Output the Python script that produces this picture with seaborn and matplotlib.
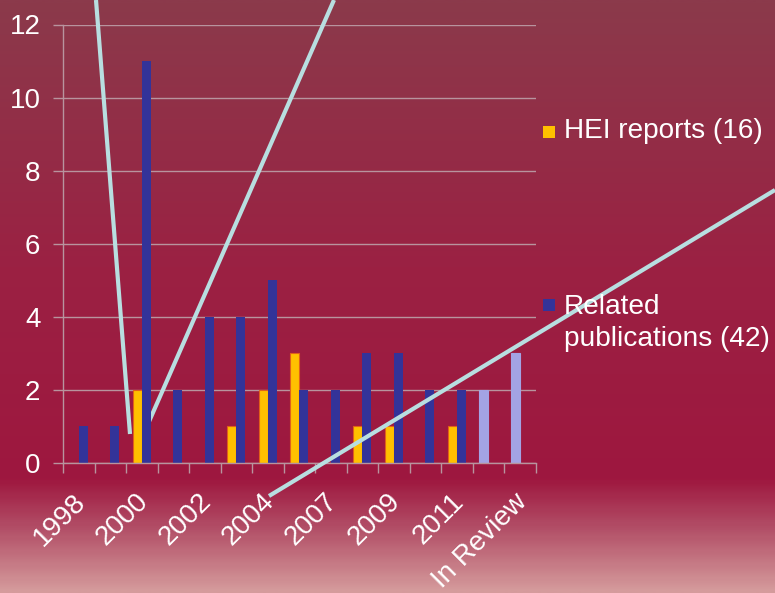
import numpy as np
import pandas as pd
import seaborn as sns
import matplotlib.pyplot as plt
from matplotlib.colors import LinearSegmentedColormap
from matplotlib.lines import Line2D
from matplotlib.patches import Rectangle
from matplotlib.transforms import ScaledTranslation

# data
categories = ['1998', '1999', '2000', '2001', '2002', '2003', '2004', '2005',
              '2007', '2008', '2009', '2010', '2011', 'In Press', 'In Review']
hei_reports = [0, 0, 2, 0, 0, 1, 2, 3, 0, 1, 1, 0, 1, 2, 3]
related_pubs = [1, 1, 11, 2, 4, 4, 5, 2, 2, 3, 3, 2, 2, 0, 0]
pending = ['In Press', 'In Review']  # HEI bars drawn in lavender
legend_labels = ['HEI reports (16)', 'Related\npublications (42)']
y_ticks = [0, 2, 4, 6, 8, 10, 12]

W, H = 775, 593
plt.rcParams['font.family'] = ['Liberation Sans', 'DejaVu Sans']

fig = plt.figure(figsize=(W / 100, H / 100), dpi=100)

# slide background gradient
bg = fig.add_axes([0, 0, 1, 1], zorder=-10)
grad = LinearSegmentedColormap.from_list(
    'slide', [(0.0, '#8b3a4b'), (0.45, '#9b2143'), (0.81, '#9e173f'),
              (0.90, '#b4536a'), (1.0, '#d59b9c')])
bg.imshow(np.linspace(0, 1, 300).reshape(-1, 1), aspect='auto', cmap=grad,
          extent=[0, 1, 0, 1])
bg.axis('off')


def fx(px):
    return px / W


def fy(py):
    return 1 - py / H


ax = fig.add_axes([fx(63), fy(463), fx(535.5) - fx(63), fy(24.5) - fy(463)])
ax.set_facecolor('none')

df = pd.DataFrame({
    'category': categories * 2,
    'count': hei_reports + related_pubs,
    'series': ['HEI'] * len(categories) + ['Related'] * len(categories),
})
sns.barplot(data=df, x='category', y='count', hue='series', ax=ax,
            palette={'HEI': '#ffc000', 'Related': '#333399'},
            width=0.57, saturation=1, legend=False, zorder=2)

for cat, bar in zip(categories, ax.containers[0]):
    bar.set_edgecolor('#e0601a')
    bar.set_linewidth(0.8)
    if cat in pending:
        bar.set_facecolor('#a3a3e4')
        bar.set_edgecolor('#a3a3e4')
for bar in ax.containers[1]:
    bar.set_linewidth(0)

grid_col = '#b8949e'
ax.set_xlim(-0.5, len(categories) - 0.5)
ax.set_ylim(0, 12)
ax.set_yticks(y_ticks)
ax.yaxis.grid(True, color=grid_col, lw=1)
ax.set_axisbelow(True)
ax.tick_params(axis='y', colors=grid_col, labelcolor='white', labelsize=20,
               length=7.2, width=1, pad=9)

ax.set_xticks(range(len(categories)))
ax.set_xticklabels([c if i % 2 == 0 else '' for i, c in enumerate(categories)],
                   rotation=45, ha='right', va='center', rotation_mode='anchor')
ax.set_xticks(np.arange(-0.5, len(categories)), minor=True)
ax.tick_params(axis='x', which='major', length=0, labelcolor='white',
               labelsize=20, pad=25)
ax.tick_params(axis='x', which='minor', length=7.2, color=grid_col, width=1)
shift = ScaledTranslation(0.03, 0, fig.dpi_scale_trans)
for lbl in ax.get_xticklabels():
    lbl.set_transform(lbl.get_transform() + shift)
ax.set_xlabel('')
ax.set_ylabel('')

for side in ['top', 'right']:
    ax.spines[side].set_visible(False)
for side in ['left', 'bottom']:
    ax.spines[side].set_color(grid_col)
    ax.spines[side].set_linewidth(1)

# decorative slide lines
line_col = '#b8dee0'
for (x0, y0, x1, y1), z in [((96, 0, 130, 434), 1.5),
                            ((334, 0, 144, 433), 1.5),
                            ((269, 496, 775, 190), 5)]:
    ax.add_line(Line2D([fx(x0), fx(x1)], [fy(y0), fy(y1)], color=line_col,
                       lw=3, transform=fig.transFigure, clip_on=False,
                       zorder=z, solid_capstyle='butt'))

# legend drawn as slide text
for (sy, ty), col, label in [((126, 118), '#ffc000', legend_labels[0]),
                             ((299, 294), '#333399', legend_labels[1])]:
    fig.patches.append(Rectangle((fx(543), fy(sy + 12)), fx(12), 12 / H,
                                 facecolor=col, edgecolor='none',
                                 transform=fig.transFigure, figure=fig))
    fig.text(fx(564), fy(ty), label, color='white', fontsize=20.2,
             va='top', ha='left', linespacing=1.28)

fig.savefig('out.png', dpi=100)
